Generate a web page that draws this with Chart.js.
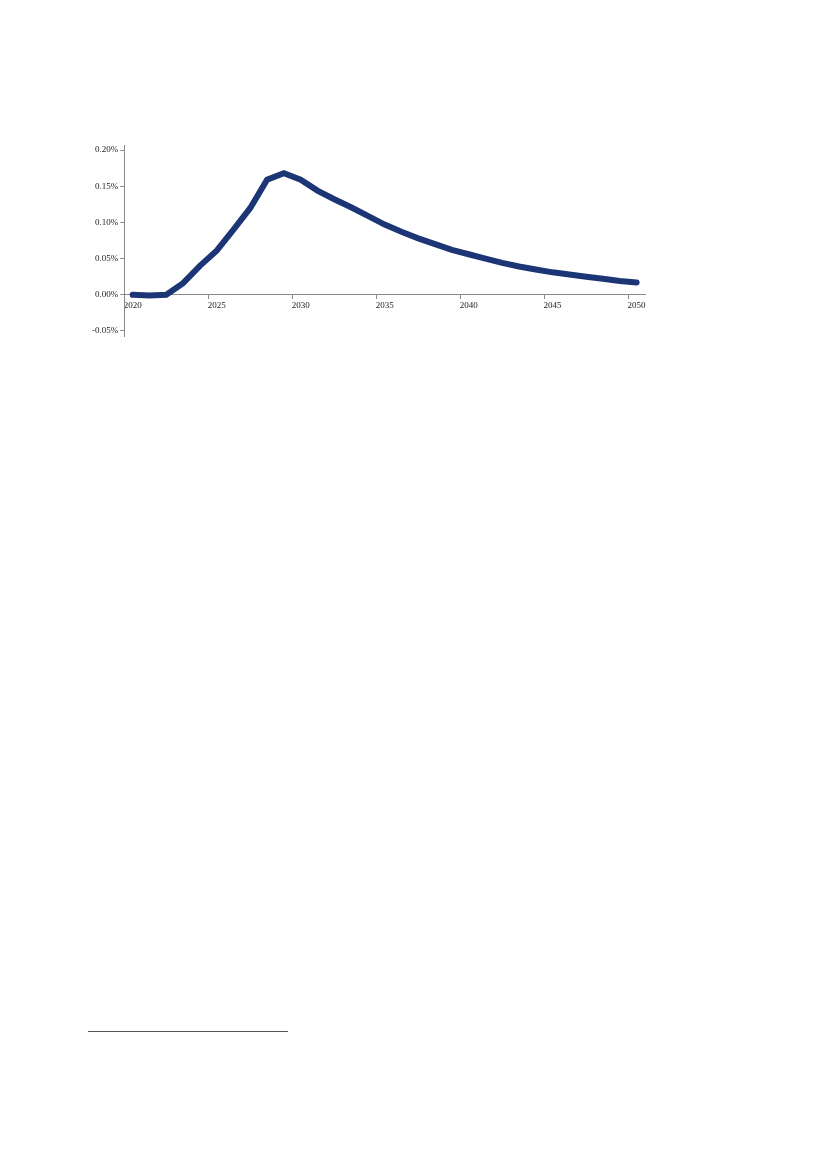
<!DOCTYPE html>
<html>
<head>
<meta charset="utf-8">
<script src="https://cdn.jsdelivr.net/npm/chart.js@4/dist/chart.umd.min.js"></script>
<style>
  html, body { margin: 0; padding: 0; background: #fff; }
  body { width: 827px; height: 1169px; position: relative; overflow: hidden; }
  #wrap { position: absolute; left: 80px; top: 135px; width: 580px; height: 215px; }
  #rule { position: absolute; left: 88px; top: 1031px; width: 200px; height: 1px; background: #555; }
</style>
</head>
<body>
<div id="wrap"><canvas id="chart"></canvas></div>
<div id="rule"></div>
<script>
const years = [];
for (let y = 2020; y <= 2050; y++) years.push(String(y));

// percent values
const impact = [
  0.000, -0.001, 0.000, 0.016, 0.040, 0.061, 0.090, 0.120, 0.159, 0.168,
  0.159, 0.144, 0.132, 0.121, 0.109, 0.097, 0.087, 0.078, 0.070, 0.062,
  0.056, 0.050, 0.044, 0.039, 0.035, 0.031, 0.028, 0.025, 0.022, 0.019,
  0.017
];

const yTicks = [-0.05, 0, 0.05, 0.10, 0.15, 0.20];
const axisGrey = '#8a8a8a';
const textFont = { family: '"Liberation Serif", "DejaVu Serif", serif', size: 9 };

const ctx = document.getElementById('chart').getContext('2d');
const chart = new Chart(ctx, {
    type: 'line',
    data: {
        labels: years,
        datasets: [{
            data: impact,
            borderColor: '#1c3675',
            borderWidth: 6,
            borderCapStyle: 'round',
            borderJoinStyle: 'miter',
            pointRadius: 0,
            tension: 0,
            fill: false
        }]
    },
    options: {
        responsive: true,
        maintainAspectRatio: false,
        animation: false,
        layout: { padding: { top: 10, bottom: 14, right: 15, left: 0 } },
        plugins: { legend: { display: false }, tooltip: { enabled: false } },
        scales: {
            x: {
                type: 'category',
                position: { y: 0 },
                offset: true,
                grid: {
                    offset: true,
                    drawOnChartArea: false,
                    drawTicks: true,
                    tickLength: 4,
                    color: (c) => (c.index % 5 === 0 ? axisGrey : 'rgba(0,0,0,0)')
                },
                border: { display: true, color: axisGrey, width: 1 },
                ticks: {
                    autoSkip: false,
                    maxRotation: 0,
                    padding: 1,
                    color: '#222',
                    font: textFont,
                    callback: function (val, i) { return i % 5 === 0 ? this.getLabelForValue(val) : ''; }
                }
            },
            y: {
                min: -0.057,
                max: 0.207,
                afterBuildTicks: (scale) => { scale.ticks = yTicks.map(v => ({ value: v })); },
                afterFit: (scale) => { scale.width = 44.3; },
                grid: { drawOnChartArea: false, drawTicks: true, tickLength: 4, color: axisGrey },
                border: { display: true, color: axisGrey, width: 1 },
                ticks: {
                    padding: 2,
                    color: '#222',
                    font: textFont,
                    callback: (v) => v.toFixed(2) + '%'
                }
            }
        }
    }
});
</script>
</body>
</html>
